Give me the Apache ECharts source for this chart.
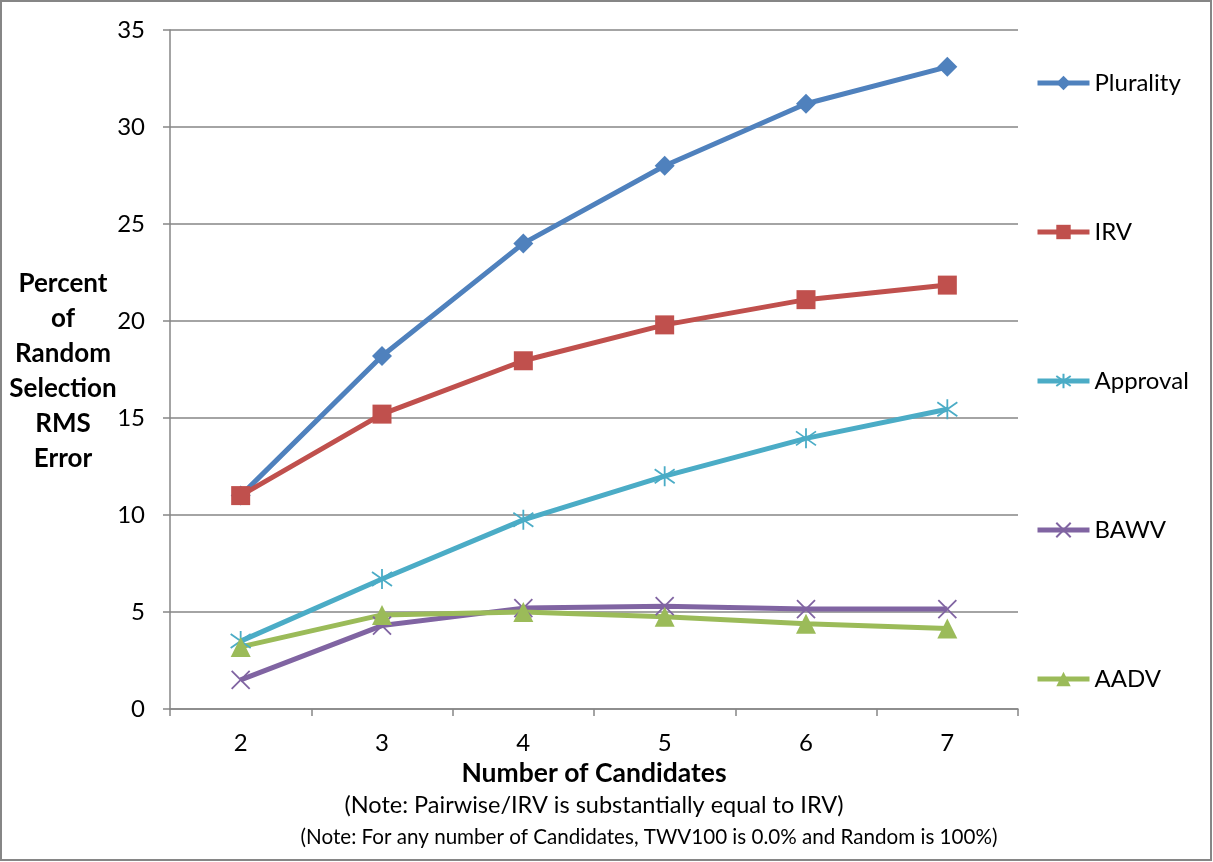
<!DOCTYPE html>
<html>
<head>
<meta charset="utf-8">
<script src="https://cdn.jsdelivr.net/npm/echarts@6/dist/echarts.min.js"></script>
<style>
html,body{margin:0;padding:0;background:#fff;}
#chart{width:1213px;height:862px;}
</style>
</head>
<body>
<div id="chart"></div>
<script>
const categories = ['2', '3', '4', '5', '6', '7'];
const plurality = [11.0, 18.2, 24.0, 28.0, 31.2, 33.1];
const irv = [11.0, 15.2, 17.95, 19.8, 21.1, 21.85];
const approval = [3.5, 6.7, 9.75, 12.0, 13.95, 15.45];
const bawv = [1.5, 4.3, 5.2, 5.3, 5.15, 5.15];
const aadv = [3.2, 4.85, 5.0, 4.75, 4.4, 4.15];
const yTicks = { min: 0, max: 35, interval: 5 };
const yTitle = 'Percent\nof\nRandom\nSelection\nRMS\nError';
const xTitle = 'Number of Candidates';
const note1 = '(Note: Pairwise/IRV is substantially equal to IRV)';
const note2 = '(Note: For any number of Candidates, TWV100 is 0.0% and Random is 100%)';

const FONT = 'Lato';
const chart = echarts.init(document.getElementById('chart'));

const asterisk = 'path://M0,-10L0,10M-7,-7L7,7M-7,7L7,-7';
const cross = 'path://M-7,-7L7,7M-7,7L7,-7';

function mk(name, data, color, symbol, size, stroke) {
  return {
    name, type: 'line', data,
    symbol, symbolSize: size,
    lineStyle: { color, width: 5 },
    itemStyle: stroke ? { color, borderColor: color, borderWidth: 1.8 } : { color },
    emphasis: { disabled: true },
    animation: false
  };
}

chart.setOption({
  animation: false,
  textStyle: { fontFamily: FONT },
  grid: { left: 170, right: 195, top: 30, bottom: 153 },
  legend: {
    orient: 'vertical',
    left: 1035, top: 71,
    padding: 0,
    itemWidth: 52, itemHeight: 18,
    itemGap: 125,
    lineStyle: { width: 5 },
    textStyle: { fontFamily: FONT, fontSize: 24, color: '#000', lineHeight: 24 },
    data: ['Plurality', 'IRV', 'Approval', 'BAWV', 'AADV']
  },
  xAxis: {
    type: 'category',
    data: categories,
    axisLine: { lineStyle: { color: '#868686', width: 1.5 } },
    axisTick: { show: true, length: 7, lineStyle: { color: '#868686', width: 1.5 } },
    axisLabel: { fontSize: 24, color: '#000', margin: 22, fontFamily: FONT }
  },
  yAxis: {
    type: 'value',
    min: yTicks.min, max: yTicks.max, interval: yTicks.interval,
    axisLine: { show: true, lineStyle: { color: '#868686', width: 1.5 } },
    axisTick: { show: true, length: 7, lineStyle: { color: '#868686', width: 1.5 } },
    splitLine: { lineStyle: { color: '#868686', width: 1.5 } },
    axisLabel: { fontSize: 24, color: '#000', margin: 25, fontFamily: FONT }
  },
  graphic: [
    { type: 'rect', shape: { x: 1, y: 1, width: 1210, height: 859 }, style: { fill: 'none', stroke: '#868686', lineWidth: 2 }, silent: true },
    { type: 'text', x: 63, y: 371, style: { text: yTitle, fontFamily: FONT, fontSize: 26, fontWeight: 'bold', fill: '#000', align: 'center', verticalAlign: 'middle', lineHeight: 35 } },
    { type: 'text', x: 594, y: 773, style: { text: xTitle, fontFamily: FONT, fontSize: 26.5, fontWeight: 'bold', fill: '#000', align: 'center', verticalAlign: 'middle' } },
    { type: 'text', x: 594, y: 805, style: { text: note1, fontFamily: FONT, fontSize: 23.5, fill: '#000', align: 'center', verticalAlign: 'middle' } },
    { type: 'text', x: 649, y: 837, style: { text: note2, fontFamily: FONT, fontSize: 20.6, fill: '#000', align: 'center', verticalAlign: 'middle' } }
  ],
  series: [
    mk('Plurality', plurality, '#4F81BD', 'diamond', 20, false),
    mk('IRV', irv, '#C0504D', 'rect', 19, false),
    mk('Approval', approval, '#4BACC6', asterisk, 20, true),
    mk('BAWV', bawv, '#8064A2', cross, 18, true),
    mk('AADV', aadv, '#9BBB59', 'triangle', 20, false)
  ]
});
</script>
</body>
</html>
